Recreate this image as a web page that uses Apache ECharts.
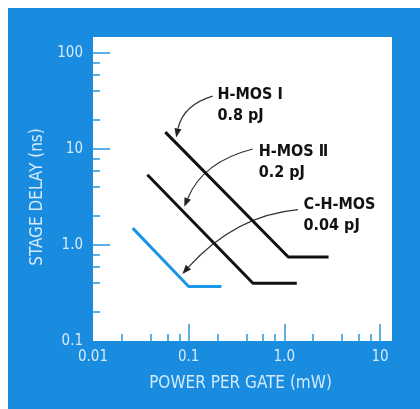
<!DOCTYPE html>
<html>
<head>
<meta charset="utf-8">
<script src="https://cdn.jsdelivr.net/npm/echarts@6/dist/echarts.min.js"></script>
<style>
  html, body { margin: 0; padding: 0; background: #fff; }
  #chart { width: 420px; height: 409px; }
</style>
</head>
<body>
<div id="chart"></div>
<script>
// stage delay (ns) vs power per gate (mW), both log
const hmos1 = [[0.057, 15], [1.1, 0.75], [2.9, 0.75]];
const hmos2 = [[0.037, 5.4], [0.47, 0.4], [1.35, 0.4]];
const chmos = [[0.026, 1.5], [0.1, 0.37], [0.22, 0.37]];

const xMajor = [0.01, 0.1, 1, 10];
const xMajorLabels = ['0.01', '0.1', '1.0', '10'];
const xMinor = [0.02, 0.04, 0.06, 0.08, 0.2, 0.4, 0.6, 0.8, 2, 4, 6, 8];
const yMajor = [0.1, 1, 10, 100];
const yMajorLabels = ['0.1', '1.0', '10', '100'];
const yMinor = [0.2, 0.4, 0.6, 0.8, 2, 4, 6, 8, 20, 40, 60, 80];

// callouts (data units): text, text top-left, arrow start, bend, tip
const noteText = [['H-MOS Ⅰ', '0.8 pJ'], ['H-MOS Ⅱ', '0.2 pJ'], ['C-H-MOS', '0.04 pJ']];
const noteAt = [[0.2, 47], [0.54, 12.1], [1.59, 3.36]];
const arrowFrom = [[0.178, 35.6], [0.467, 10], [1.39, 2.34]];
const arrowBend = [[0.0871, 28.7], [0.14, 7.34], [0.306, 2.04]];
const arrowTip = [[0.074, 13.2], [0.09, 2.5], [0.086, 0.5]];

const font = '"DejaVu Sans Condensed", "DejaVu Sans", sans-serif';
const frameBlue = '#1a8ce0';
const tickBlue = '#2a95dc';
const paleText = '#d4eafb';

function pickLabel(values, labels) {
  return v => {
    let best = 0;
    values.forEach((t, i) => {
      if (Math.abs(Math.log10(t) - Math.log10(v)) < Math.abs(Math.log10(values[best]) - Math.log10(v))) best = i;
    });
    return labels[best];
  };
}

const chart = echarts.init(document.getElementById('chart'));

const logAxis = (min, max) => ({
  type: 'log',
  logBase: 10,
  min: min,
  max: max,
  axisLine: { show: false },
  splitLine: { show: false },
});

const backdrop = [
  { type: 'rect', z: -2, shape: { x: 8, y: 8, width: 412, height: 401 }, style: { fill: frameBlue } },
  { type: 'rect', z: -1, shape: { x: 93, y: 37, width: 299, height: 304 }, style: { fill: '#fff' } },
];

chart.setOption({
  animation: false,
  backgroundColor: '#fff',
  grid: { left: 93, top: 53, width: 287, height: 288 },
  xAxis: [
    Object.assign(logAxis(0.01, 10), {
      position: 'bottom',
      name: 'POWER PER GATE (mW)',
      nameLocation: 'middle',
      nameGap: 34,
      nameTextStyle: { color: paleText, fontSize: 17, fontFamily: font, padding: [0, 0, 0, 8] },
      axisTick: { inside: true, length: 17, customValues: xMajor.slice(1), lineStyle: { color: tickBlue, width: 1.5 } },
      axisLabel: {
        customValues: xMajor,
        formatter: pickLabel(xMajor, xMajorLabels),
        color: paleText, fontSize: 15, fontFamily: font, margin: 9,
      },
    }),
    Object.assign(logAxis(0.01, 10), {
      position: 'bottom',
      axisLabel: { show: false },
      axisTick: { inside: true, length: 7, customValues: xMinor, lineStyle: { color: tickBlue, width: 1.5 } },
    }),
  ],
  yAxis: [
    Object.assign(logAxis(0.1, 100), {
      position: 'left',
      name: 'STAGE DELAY (ns)',
      nameLocation: 'middle',
      nameRotate: 90,
      nameGap: 45,
      nameTextStyle: { color: paleText, fontSize: 17, fontFamily: font },
      axisTick: { inside: true, length: 17, customValues: yMajor.slice(1), lineStyle: { color: tickBlue, width: 1.5 } },
      axisLabel: {
        customValues: yMajor,
        formatter: pickLabel(yMajor, yMajorLabels),
        color: paleText, fontSize: 15, fontFamily: font, margin: 10,
      },
    }),
    Object.assign(logAxis(0.1, 100), {
      position: 'left',
      axisLabel: { show: false },
      axisTick: { inside: true, length: 7, customValues: yMinor, lineStyle: { color: tickBlue, width: 1.5 } },
    }),
  ],
  series: [
    { name: 'H-MOS I', type: 'line', data: hmos1, symbol: 'none', lineStyle: { color: '#111', width: 3 } },
    { name: 'H-MOS II', type: 'line', data: hmos2, symbol: 'none', lineStyle: { color: '#111', width: 3 } },
    { name: 'C-H-MOS', type: 'line', data: chmos, symbol: 'none', lineStyle: { color: '#1b95e6', width: 3 } },
  ],
  graphic: { elements: backdrop },
});

/*callouts with curved arrows*/
const toPx = p => chart.convertToPixel({ seriesIndex: 0 }, p);
const callouts = [];
noteText.forEach((lines, i) => {
  const at = toPx(noteAt[i]);
  const a = toPx(arrowFrom[i]);
  const c = toPx(arrowBend[i]);
  const t = toPx(arrowTip[i]);
  let dx = t[0] - c[0], dy = t[1] - c[1];
  const len = Math.hypot(dx, dy);
  dx /= len; dy /= len;
  const head = 9, half = 3.5;
  const bx = t[0] - dx * head, by = t[1] - dy * head;
  callouts.push({
    type: 'text',
    style: {
      text: lines.join('\n'),
      x: at[0], y: at[1],
      fill: '#111',
      fontSize: 16, fontWeight: 'bold', fontFamily: font,
      lineHeight: 21,
      verticalAlign: 'top',
    },
  });
  callouts.push({
    type: 'bezierCurve',
    shape: { x1: a[0], y1: a[1], cpx1: c[0], cpy1: c[1], x2: bx, y2: by },
    style: { stroke: '#333', lineWidth: 1.2, fill: null },
  });
  callouts.push({
    type: 'polygon',
    shape: { points: [[t[0], t[1]], [bx - dy * half, by + dx * half], [bx + dy * half, by - dx * half]] },
    style: { fill: '#222' },
  });
});

chart.setOption({ graphic: { elements: backdrop.concat(callouts) } });
</script>
</body>
</html>
